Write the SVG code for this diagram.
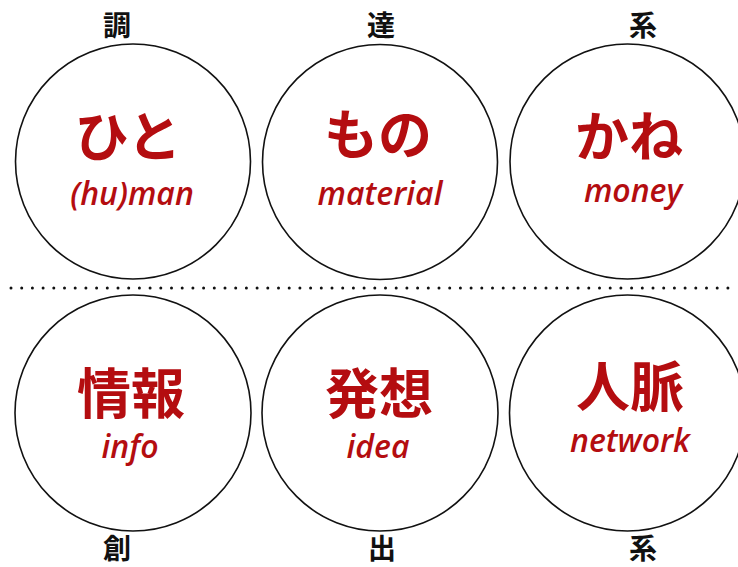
<svg xmlns="http://www.w3.org/2000/svg" width="738" height="567" viewBox="0 0 738 567">
<style>
.c{fill:#fff;stroke:#111;stroke-width:1.6}
.jp{font-family:"Noto Sans CJK JP","Noto Sans",sans-serif;font-weight:700;fill:#b40d10;font-size:54px;text-anchor:middle}
.en{font-family:"Open Sans","Liberation Sans",sans-serif;font-style:italic;font-weight:600;fill:#b40d10;font-size:32px;text-anchor:middle}
.lb{font-family:"Noto Sans CJK JP",sans-serif;font-weight:700;fill:#111;font-size:28px;text-anchor:middle}
</style>
<rect width="738" height="567" fill="#fff"/>
<g id="connectors">
<line x1="11" y1="288" x2="738" y2="288" stroke="#111" stroke-width="3" stroke-linecap="round" stroke-dasharray="0 10.7"/>
</g>
<g id="labels">
<text class="lb" x="117" y="36">調</text>
<text class="lb" x="381" y="36">達</text>
<text class="lb" x="643" y="36">系</text>
<text class="lb" x="117" y="559">創</text>
<text class="lb" x="382" y="559">出</text>
<text class="lb" x="643" y="559">系</text>
</g>
<g id="human">
<circle class="c" cx="133" cy="161.5" r="117.5"/>
<text class="jp" x="128" y="157">ひと</text>
<text class="en" x="132" y="205">(hu)man</text>
</g>
<g id="material">
<circle class="c" cx="380" cy="162" r="117.5"/>
<text class="jp" x="378" y="155">もの</text>
<text class="en" x="380" y="205">material</text>
</g>
<g id="money">
<circle class="c" cx="627.5" cy="161.5" r="117.5"/>
<text class="jp" x="629" y="157">かね</text>
<text class="en" x="633" y="202">money</text>
</g>
<g id="info">
<circle class="c" cx="133" cy="413" r="118"/>
<text class="jp" x="131" y="414">情報</text>
<text class="en" x="130" y="458">info</text>
</g>
<g id="idea">
<circle class="c" cx="380" cy="413" r="118"/>
<text class="jp" x="379" y="414">発想</text>
<text class="en" x="378" y="458">idea</text>
</g>
<g id="network">
<circle class="c" cx="627.5" cy="413" r="118"/>
<text class="jp" x="630" y="407">人脈</text>
<text class="en" x="630" y="452">network</text>
</g>
</svg>
